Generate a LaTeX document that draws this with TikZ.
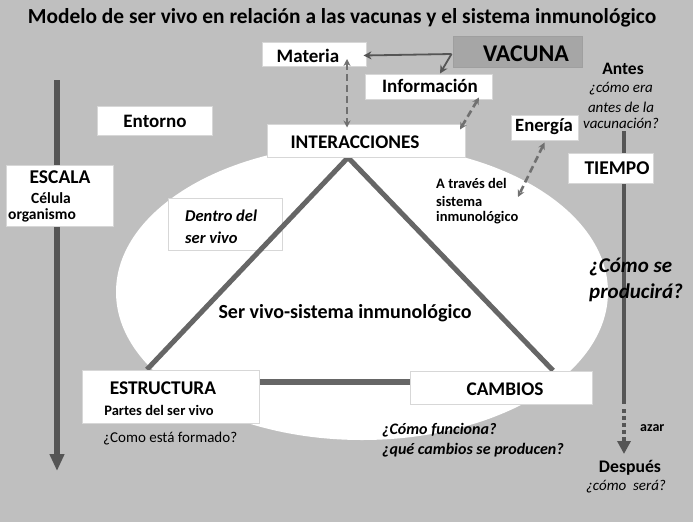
\documentclass[tikz,border=0pt]{standalone}
\usepackage{fontspec}
\setmainfont{Carlito}
\usetikzlibrary{arrows.meta,calc}
\definecolor{bg}{RGB}{191,191,191}
\definecolor{vacg}{RGB}{166,166,166}
\definecolor{trig}{RGB}{102,102,102}
\definecolor{darkl}{RGB}{85,85,85}
\definecolor{dashg}{RGB}{112,112,112}
\definecolor{boxedge}{RGB}{215,215,215}
\begin{document}
\begin{tikzpicture}[x=1pt,y=-1pt,
  box/.style={draw=boxedge, line width=1pt, fill=white, inner sep=0pt},
  tbf/.style={font=\fontsize{#1pt}{#1pt}\selectfont\bfseries, inner sep=0pt},
  tbi/.style={font=\fontsize{#1pt}{#1pt}\selectfont\bfseries\itshape, inner sep=0pt},
  tit/.style={font=\fontsize{#1pt}{#1pt}\selectfont\itshape, inner sep=0pt},
  trg/.style={font=\fontsize{#1pt}{#1pt}\selectfont, inner sep=0pt},
  triline/.style={draw=trig, line width=5pt},
  scaleline/.style={draw=darkl, line width=6pt},
  timeline/.style={draw=darkl, line width=4.5pt},
  dasharrow/.style={draw=dashg, line width=2.6pt, dash pattern=on 7pt off 4pt,
     {Stealth[length=7pt,width=7pt]}-{Stealth[length=7pt,width=7pt]}},
  vacarrow/.style={draw=darkl, line width=1.8pt, -{Stealth[length=8pt,width=8pt]}}
]
\useasboundingbox (0,0) rectangle (693,522);
\fill[bg] (0,0) rectangle (693,522);
% white ellipse
\fill[white] (362,292) ellipse [x radius=246, y radius=148];

% title
\node[tbf=21.4] (title) at (342,18) {Modelo de ser vivo en relación a las vacunas y el sistema inmunológico};

% scale arrow (left)
\coordinate (escTop) at (57,80);
\coordinate (escBot) at (57,471);
\draw[scaleline, -{Triangle[length=17pt,width=14pt]}] (escTop) -- (escBot);

% time line (right)
\coordinate (tA) at (624,131);
\coordinate (tB) at (624,404);
\coordinate (tC) at (624,409);
\coordinate (tD) at (624,440);
\coordinate (tE) at (624,454);
\draw[timeline] (tA) -- (tB);
\draw[timeline, dash pattern=on 4pt off 3pt] (tC) -- (tD);
\draw[darkl, line width=4.5pt, -{Triangle[length=13pt,width=13pt]}] (tD) -- (tE);

% boxes
\node[box, minimum width=104pt, minimum height=24pt] (mat) at (314,54.5) {};
\node[draw=gray!75, line width=1pt, fill=vacg, inner sep=0pt, minimum width=129pt, minimum height=31pt] (vac) at (517.5,51.5) {};
\node[box, minimum width=127pt, minimum height=25pt] (info) at (428.5,86.5) {};
\node[box, minimum width=115pt, minimum height=29pt] (ent) at (154.5,120.5) {};
\node[box, minimum width=67pt, minimum height=25pt] (ener) at (544.5,127.5) {};
\node[box, minimum width=85pt, minimum height=30pt] (tiempo) at (610.5,168) {};
\node[box, minimum width=107pt, minimum height=61pt] (escala) at (59.5,195.5) {};
\node[box, minimum width=114pt, minimum height=52pt] (dentro) at (225,224) {};

% triangle
\coordinate (apexpos) at (366,140.5);
\node[box, minimum width=198pt, minimum height=33pt] (inter) at (apexpos) {};
\coordinate (apex) at ([xshift=-18pt]inter.south);
\node[box, minimum width=177pt, minimum height=53pt] (estr) at (170.5,396.5) {};
\node[box, minimum width=182pt, minimum height=33pt] (camb) at (501,387.5) {};
\draw[triline] (apex) -- ([xshift=-23.5pt]estr.north);
\draw[triline] (apex) -- ([xshift=52pt]camb.north);
\draw[draw=trig, line width=6pt] ([yshift=14.5pt]estr.east) -- ([yshift=5.5pt]camb.west);
% redraw boxes over line ends
\node[box, minimum width=177pt, minimum height=53pt] (estrTop) at (estr) {};
\node[box, minimum width=182pt, minimum height=33pt] (cambTop) at (camb) {};
\node[box, minimum width=198pt, minimum height=33pt] (interTop) at (inter) {};

% box texts
\node[tbf=19] (matT) at (308,56) {Materia};
\node[tbf=24] (vacT) at (526,54) {VACUNA};
\node[tbf=19] (infoT) at (430,86) {Información};
\node[tbf=19] (entT) at (155,121) {Entorno};
\node[tbf=19.3] (interT) at (355,142) {INTERACCIONES};
\node[tbf=18.7] (enerT) at (544,127) {Energía};
\node[tbf=19.5] (tiempoT) at (617,168) {TIEMPO};
\node[tbf=19.5] (escT) at (60,177) {ESCALA};
\node[tbf=15.5] (celT) at (51,198) {Célula};
\node[tbf=15.5] (orgT) at (42,215) {organismo};
\node[tbi=16.5, anchor=west] (dentroT1) at (185,216) {Dentro del};
\node[tbi=16.5, anchor=west] (dentroT2) at (185,238) {ser vivo};
\node[tbf=19.4] (estrT) at (163,388) {ESTRUCTURA};
\node[tbf=14.5] (partT) at (159,410) {Partes del ser vivo};
\node[tbf=19.3] (cambT) at (505,389) {CAMBIOS};

% free texts
\node[tbf=17.5] (antesT) at (623,69) {Antes};
\node[tit=15] (antes1) at (621,89) {¿cómo era};
\node[tit=15] (antes2) at (621,107) {antes de la};
\node[tit=15] (antes3) at (621,123) {vacunación?};
\node[tbf=14.5, anchor=west] (atr1) at (436,183) {A través del};
\node[tbf=14.5, anchor=west] (atr2) at (436,201) {sistema};
\node[tbf=14.5, anchor=west] (atr3) at (436,218) {inmunológico};
\node[tbi=21, anchor=west] (prod1) at (589,267) {¿Cómo se};
\node[tbi=21, anchor=west] (prod2) at (589,293) {producirá?};
\node[tbf=20] (svT) at (345,313) {Ser vivo-sistema inmunológico};
\node[trg=15, anchor=west] (formT) at (103,439) {¿Como está formado?};
\node[tbi=16, anchor=west] (func1) at (382,430) {¿Cómo funciona?};
\node[tbi=16, anchor=west] (func2) at (382,450) {¿qué cambios se producen?};
\node[tbf=14, anchor=west] (azarT) at (640,428) {azar};
\node[tbf=17.7] (despT) at (630,468) {Después};
\node[tit=15] (seraT) at (626,487) {¿cómo~ será?};

% dashed interaction arrows
\draw[dasharrow] ([xshift=33pt,yshift=8pt]mat.south) -- ([xshift=-19pt,yshift=-4pt]inter.north);
\draw[dasharrow] ([xshift=50.5pt,yshift=2pt]info.south) -- ([xshift=94pt,yshift=-6pt]inter.north);
\draw[dasharrow] ([yshift=-2pt]ener.south) -- (518,197);

% vacuna arrows
\coordinate (vacO) at ([xshift=-1pt,yshift=-2.5pt]vac.west);
\draw[vacarrow] (vacO) -- ([xshift=-3pt,yshift=-1pt]mat.east);
\draw[vacarrow] (vacO) -- ([xshift=11.5pt]info.north);
\end{tikzpicture}
\end{document}
